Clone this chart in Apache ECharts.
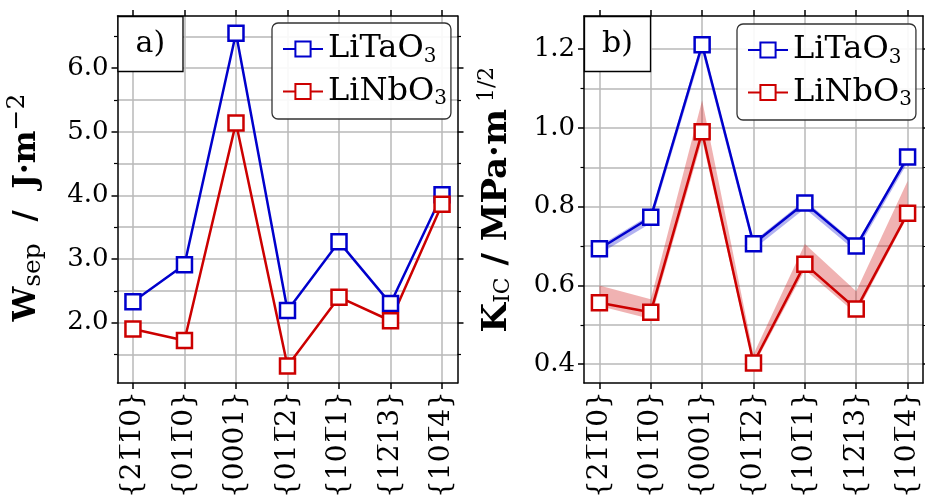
<!DOCTYPE html>
<html><head><meta charset="utf-8">
<script src="https://cdn.jsdelivr.net/npm/echarts@6/dist/echarts.min.js"></script>
<style>html,body{margin:0;padding:0;background:#fff}#c{width:925px;height:501px}</style>
</head><body><div id="c"></div><script>
// ---- data ----
const categories = ['{21\u03051\u03050}', '{011\u03050}', '{0001}', '{011\u03052}', '{101\u03051}', '{12\u030513}', '{101\u03054}'];
const xTickValues = [0, 1, 2, 3, 4, 5, 6];
const seriesNames = ['LiTaO3', 'LiNbO3'];

const wsepLiTaO3 = [2.33, 2.91, 6.55, 2.19, 3.27, 2.30, 4.01];
const wsepLiNbO3 = [1.90, 1.72, 5.14, 1.32, 2.40, 2.03, 3.86];
const wsepTicks = [2.0, 3.0, 4.0, 5.0, 6.0];

const kicLiTaO3 = [0.693, 0.773, 1.211, 0.706, 0.809, 0.700, 0.926];
const kicLiNbO3 = [0.556, 0.532, 0.990, 0.403, 0.654, 0.540, 0.783];
const kicLiTaO3Lower = [0.680, 0.758, 1.195, 0.692, 0.795, 0.686, 0.912];
const kicLiTaO3Upper = [0.700, 0.780, 1.222, 0.712, 0.816, 0.706, 0.932];
const kicLiNbO3Lower = [0.548, 0.515, 0.970, 0.394, 0.640, 0.528, 0.775];
const kicLiNbO3Upper = [0.600, 0.565, 1.070, 0.425, 0.705, 0.585, 0.865];
const kicTicks = [0.4, 0.6, 0.8, 1.0, 1.2];

// ---- style ----
const BLUE = '#0000cc', RED = '#cc0000';
const FONT = 'DejaVu Serif';
const GRIDC = '#b8b8b8';
const xMin = -0.3, xMax = 6.3;

const chart = echarts.init(document.getElementById('c'), null, {renderer: 'canvas'});

function pairs(vals) { return vals.map((v, i) => [xTickValues[i], v]); }

function xAxesFor(gi) {
  const common = {
    type: 'value', gridIndex: gi, min: xMin, max: xMax, minInterval: 1, maxInterval: 1,
    axisLine: {show: true, onZero: false, lineStyle: {color: '#000', width: 1.5}},
    axisTick: {show: true, length: 6, customValues: xTickValues, lineStyle: {color: '#000', width: 1.5}}
  };
  return [
    Object.assign({}, common, {
      position: 'bottom',
      axisLabel: {show: true, rotate: 90, margin: 8, customValues: xTickValues,
        fontFamily: FONT, fontSize: 28, color: '#000',
        formatter: v => (Math.abs(v - Math.round(v)) < 1e-6 && categories[Math.round(v)]) || ''},
      splitLine: {show: true, lineStyle: {color: GRIDC, width: 1.5}}
    }),
    Object.assign({}, common, {
      position: 'top', axisLabel: {show: false}, splitLine: {show: false}
    })
  ];
}

function yAxesFor(gi, mn, mx, major, ticks, dec, name, nameGap, fs, ss, namePad) {
  const common = {
    type: 'value', gridIndex: gi, min: mn, max: mx, minInterval: major, maxInterval: major,
    axisLine: {show: true, onZero: false, lineStyle: {color: '#000', width: 1.5}},
    axisTick: {show: true, length: 6, customValues: ticks, lineStyle: {color: '#000', width: 1.5}},
    minorTick: {show: true, splitNumber: 2, length: 3.5, lineStyle: {color: '#000', width: 1.2}}
  };
  return [
    Object.assign({}, common, {
      position: 'left',
      name: name, nameLocation: 'middle', nameRotate: 90, nameGap: nameGap, nameMoveOverlap: false,
      nameTextStyle: {
        fontFamily: FONT, color: '#000', padding: namePad,
        rich: {
          b: {fontFamily: FONT, fontWeight: 'bold', fontSize: fs, color: '#000'},
          sub: {fontFamily: FONT, fontSize: ss, color: '#000', padding: [13, 0, 0, 0]},
          sup: {fontFamily: FONT, fontSize: ss, color: '#000', padding: [0, 0, 20, 0]}
        }
      },
      axisLabel: {show: true, margin: 9, customValues: ticks, fontFamily: FONT, fontSize: 26, color: '#000',
        formatter: v => ticks.some(t => Math.abs(t - v) < 1e-6) ? v.toFixed(dec) : ''},
      splitLine: {show: true, lineStyle: {color: GRIDC, width: 1.5}},
      minorSplitLine: {show: true, lineStyle: {color: GRIDC, width: 1.5}}
    }),
    Object.assign({}, common, {
      position: 'right', axisLabel: {show: false}, splitLine: {show: false}
    })
  ];
}

function bandSeries(xi, yi, lower, upper, color) {
  return {
    type: 'custom', xAxisIndex: xi, yAxisIndex: yi, silent: true, z: 1,
    data: [[xTickValues[0], lower[0]]],
    renderItem: function (params, api) {
      const pts = [];
      for (let i = 0; i < upper.length; i++) pts.push(api.coord([xTickValues[i], upper[i]]));
      for (let i = lower.length - 1; i >= 0; i--) pts.push(api.coord([xTickValues[i], lower[i]]));
      return {type: 'polygon', shape: {points: pts}, style: {fill: color}};
    }
  };
}

function lineSeries(name, xi, yi, vals, color) {
  return {
    name: name, type: 'line', xAxisIndex: xi, yAxisIndex: yi, z: 3,
    data: pairs(vals), symbol: 'rect', symbolSize: 15,
    itemStyle: {color: '#fff', borderColor: color, borderWidth: 2.5},
    lineStyle: {color: color, width: 2.5},
    emphasis: {disabled: true}
  };
}

const legendRich = {
  n: {fontFamily: FONT, fontSize: 32, color: '#000', lineHeight: 38},
  s: {fontFamily: FONT, fontSize: 20, color: '#000', padding: [15, 0, 0, 0]}
};
function legendFor(left, top) {
  return {
    data: seriesNames, orient: 'vertical', left: left, top: top,
    padding: [10, 4, 10, 10], itemGap: 9, itemWidth: 40, itemHeight: 19,
    borderColor: '#333', borderWidth: 1.3, borderRadius: 6, backgroundColor: 'rgba(255,255,255,0.9)',
    selectedMode: false,
    formatter: n => '{n|' + n.slice(0, -1) + '}{s|' + n.slice(-1) + '}',
    textStyle: {fontFamily: FONT, fontSize: 32, color: '#000', rich: legendRich}
  };
}
function titleFor(text, left, top) {
  return {
    text: text, left: left, top: top, padding: [10, 18, 10, 18],
    borderColor: '#000', borderWidth: 1.3, backgroundColor: '#fff',
    textStyle: {fontFamily: FONT, fontSize: 30, fontWeight: 'normal', color: '#000', lineHeight: 36}
  };
}

const option = {
  animation: false,
  backgroundColor: '#fff',
  grid: [
    {left: 117.5, top: 16, width: 340, height: 369},
    {left: 584, top: 16, width: 339, height: 369}
  ],
  title: [titleFor('a)', 117.5, 16), titleFor('b)', 584, 16)],
  legend: [legendFor(272, 23), legendFor(737, 24)],
  xAxis: [].concat(xAxesFor(0), xAxesFor(1)),
  yAxis: [].concat(
    yAxesFor(0, 1.05, 6.82, 1, wsepTicks, 1, '{b|W}{sub|sep}{b|  /  J·m}{sup|\u22122}', 68, 31, 25, [0, 16, 0, 0]),
    yAxesFor(1, 0.352, 1.284, 0.2, kicTicks, 1, '{b|K}{sub|IC}{b| / MPa·m}{sup| 1/2}', 66, 34, 22, [0, 0, 0, 0])
  ),
  series: [
    lineSeries('LiTaO3', 0, 0, wsepLiTaO3, BLUE),
    lineSeries('LiNbO3', 0, 0, wsepLiNbO3, RED),
    bandSeries(2, 2, kicLiTaO3Lower, kicLiTaO3Upper, 'rgba(0,0,204,0.3)'),
    bandSeries(2, 2, kicLiNbO3Lower, kicLiNbO3Upper, 'rgba(204,0,0,0.3)'),
    lineSeries('LiTaO3', 2, 2, kicLiTaO3, BLUE),
    lineSeries('LiNbO3', 2, 2, kicLiNbO3, RED)
  ]
};
chart.setOption(option);
</script></body></html>
